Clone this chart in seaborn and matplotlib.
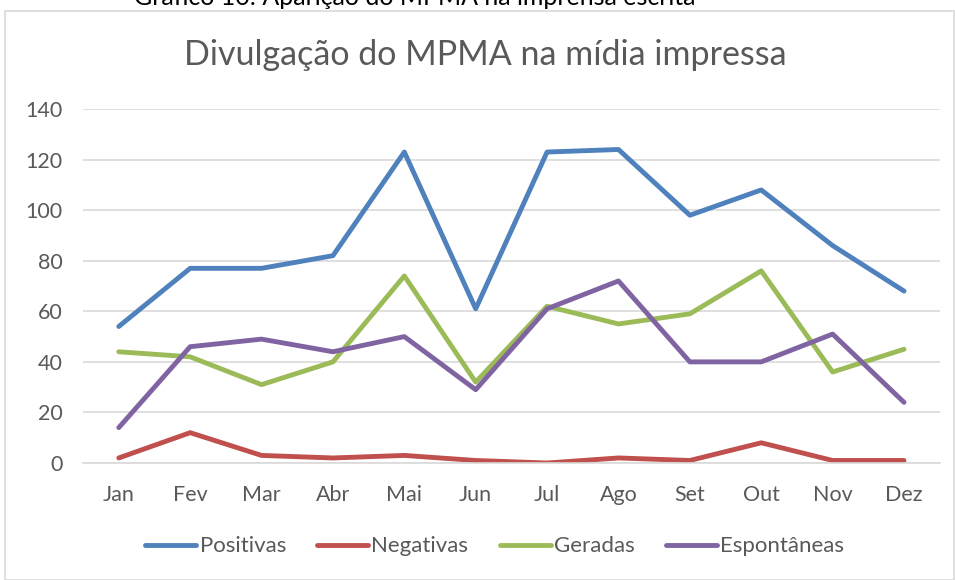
import pandas as pd
import seaborn as sns
import matplotlib.pyplot as plt
from matplotlib.patches import Rectangle

# dados
meses = ["Jan", "Fev", "Mar", "Abr", "Mai", "Jun", "Jul", "Ago", "Set", "Out", "Nov", "Dez"]
positivas = [54, 77, 77, 82, 123, 61, 123, 124, 98, 108, 86, 68]
negativas = [2, 12, 3, 2, 3, 1, 0, 2, 1, 8, 1, 1]
geradas = [44, 42, 31, 40, 74, 32, 62, 55, 59, 76, 36, 45]
espontaneas = [14, 46, 49, 44, 50, 29, 61, 72, 40, 40, 51, 24]
series = ["Positivas", "Negativas", "Geradas", "Espontâneas"]
cores = ["#4F81BD", "#C0504D", "#9BBB59", "#8064A2"]

df = pd.DataFrame({"Mês": meses, "Positivas": positivas, "Negativas": negativas,
                   "Geradas": geradas, "Espontâneas": espontaneas})
longo = df.melt(id_vars="Mês", var_name="Tipo", value_name="Valor")
longo["x"] = longo["Mês"].map({m: i for i, m in enumerate(meses)})

sns.set_style("white")
plt.rcParams["font.family"] = ["Lato", "DejaVu Sans"]
cinza = "#595959"

fig = plt.figure(figsize=(9.55, 5.8), dpi=100)
ax = fig.add_axes([0.087, 0.2017, 0.897, 0.6103])

sns.lineplot(data=longo, x="x", y="Valor", hue="Tipo", hue_order=series,
             palette=cores, linewidth=3.5, ax=ax, legend=False,
             solid_capstyle="round", solid_joinstyle="round")

ax.set_xlim(-0.5, 11.5)
ax.set_ylim(0, 140)
ax.set_xticks(range(12))
ax.set_xticklabels(meses)
ax.set_yticks(range(0, 141, 20))
ax.yaxis.grid(True, color="#D9D9D9", linewidth=1.2)
ax.set_axisbelow(True)
for s in ["top", "right", "left"]:
    ax.spines[s].set_visible(False)
ax.spines["bottom"].set_color("#D9D9D9")
ax.spines["bottom"].set_linewidth(1.2)
ax.tick_params(axis="both", length=0, labelsize=15.5, colors=cinza)
ax.tick_params(axis="x", pad=16)
ax.tick_params(axis="y", pad=15)
ax.set_xlabel("")
ax.set_ylabel("")

fig.text(0.508, 0.905, "Divulgação do MPMA na mídia impressa", ha="center", va="center",
         fontsize=24.5, color=cinza)

# legenda
handles = [plt.Line2D([0], [0], color=c, linewidth=3.5, solid_capstyle="round") for c in cores]
fig.legend(handles, series, loc="center", bbox_to_anchor=(0.518, 0.058), ncol=4,
           frameon=False, fontsize=16, handlelength=2.3, handletextpad=0.15,
           columnspacing=1.4, labelcolor=cinza)

# moldura do gráfico e legenda cortada do documento
fig.patches.append(Rectangle((5 / 955, 0.0), 949 / 955, 1 - 11 / 580, transform=fig.transFigure,
                             fill=False, edgecolor="#D9D9D9", linewidth=1.2))
fig.text(0.434, 1 - 5 / 580, "Gráfico 10: Aparição do MPMA na imprensa escrita", ha="center",
         va="baseline", fontsize=18, color="#000000")

fig.savefig("out.png", dpi=100, facecolor="white")
